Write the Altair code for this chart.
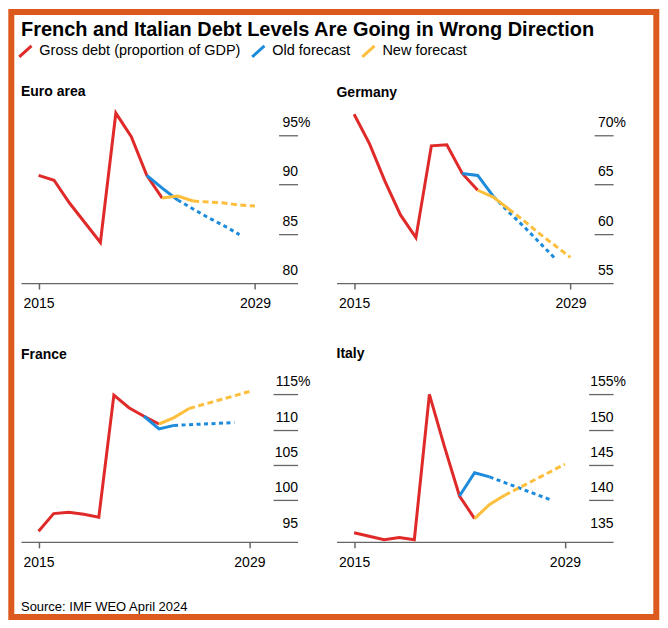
import altair as alt
import pandas as pd

# ---------------- data ----------------
SERIES = ["Gross debt (proportion of GDP)", "Old forecast", "New forecast"]

HIST_YEARS = [2015, 2016, 2017, 2018, 2019, 2020, 2021, 2022, 2023]
OLD_YEARS = [2022, 2023, 2024, 2025, 2026, 2027, 2028]
NEW_YEARS = [2023, 2024, 2025, 2026, 2027, 2028, 2029]
OLD_SOLID_UNTIL = 2024   # old forecast drawn solid up to this year, dashed after
NEW_SOLID_UNTIL = 2025   # new forecast drawn solid up to this year, dashed after

EA_DEBT = [90.9, 90.4, 88.1, 86.1, 84.1, 97.2, 94.8, 90.9, 88.6]
EA_OLD = [90.9, 89.6, 88.4, 87.5, 86.6, 85.8, 84.9]
EA_NEW = [88.6, 88.8, 88.3, 88.2, 88.1, 87.9, 87.8]

DE_DEBT = [72.1, 69.1, 65.3, 61.9, 59.6, 68.9, 69.0, 66.1, 64.4]
DE_OLD = [66.1, 65.9, 63.8, 62.2, 60.7, 59.1, 57.5]
DE_NEW = [64.4, 63.7, 62.5, 61.3, 60.0, 58.8, 57.6]

FR_DEBT = [95.6, 98.1, 98.3, 98.0, 97.6, 114.9, 113.1, 111.9, 110.8]
FR_OLD = [111.9, 110.1, 110.6, 110.7, 110.8, 110.9, 111.0]
FR_NEW = [110.8, 111.7, 113.0, 113.6, 114.2, 114.8, 115.4]

IT_DEBT = [135.4, 134.9, 134.4, 134.7, 134.4, 155.0, 147.6, 140.6, 137.4]
IT_OLD = [140.6, 143.9, 143.3, 142.5, 141.7, 140.9, 140.1]
IT_NEW = [137.4, 139.4, 140.7, 141.8, 142.9, 144.0, 145.1]

EA_TICKS = [80, 85, 90, 95]
DE_TICKS = [55, 60, 65, 70]
FR_TICKS = [95, 100, 105, 110, 115]
IT_TICKS = [135, 140, 145, 150, 155]
X_TICKS = [2015, 2029]

TITLE = "French and Italian Debt Levels Are Going in Wrong Direction"
SOURCE = "Source: IMF WEO April 2024"

# ---------------- styles ----------------
FONT = "Liberation Sans"
RED = "#DF2A29"
BLUE = "#1C8BDC"
YELLOW = "#FDBF3B"
FRAME = "#DC5A1E"
AXIS_GREY = "#666666"
W, H = 277, 175


def make_df(debt, old, new):
    rows = []
    for yr, v in zip(HIST_YEARS, debt):
        rows.append({"year": yr, "value": v, "series": SERIES[0], "part": "solid"})
    for yr, v in zip(OLD_YEARS, old):
        if yr <= OLD_SOLID_UNTIL:
            rows.append({"year": yr, "value": v, "series": SERIES[1], "part": "solid"})
        if yr >= OLD_SOLID_UNTIL:
            rows.append({"year": yr, "value": v, "series": SERIES[1], "part": "dashed"})
    for yr, v in zip(NEW_YEARS, new):
        if yr <= NEW_SOLID_UNTIL:
            rows.append({"year": yr, "value": v, "series": SERIES[2], "part": "solid"})
        if yr >= NEW_SOLID_UNTIL:
            rows.append({"year": yr, "value": v, "series": SERIES[2], "part": "dashed"})
    return pd.DataFrame(rows)


color_scale = alt.Scale(domain=SERIES, range=[RED, BLUE, YELLOW])
legend = alt.Legend(
    orient="none", legendX=-3.6, legendY=-65.3, direction="horizontal", title=None,
    symbolType="M-1,0.9L1,-0.9", symbolSize=150, symbolStrokeWidth=3,
    symbolFillColor="transparent",
    labelFont=FONT, labelFontSize=14.5, labelColor="#000", labelLimit=500,
    labelOffset=6, columnPadding=4.3,
)


def panel(name, debt, old, new, ticks, ydom, xdom, tick_len, title_offset, extra=None):
    df = make_df(debt, old, new)
    top, low = ticks[-1], ticks[0]
    xaxis = alt.Axis(
        values=X_TICKS, format="d", title=None, grid=False,
        tickSize=6, tickWidth=1.5, tickColor=AXIS_GREY,
        domainColor=AXIS_GREY, domainWidth=1.3,
        labelFont=FONT, labelFontSize=14, labelColor="#000",
        labelBaseline="alphabetic", labelPadding=18.8,
        labelFlush=False, labelOverlap=False,
    )
    yaxis = alt.Axis(
        orient="right", offset=-tick_len, tickSize=tick_len, values=ticks,
        format="d", title=None, grid=False, domain=False,
        tickColor=AXIS_GREY, tickWidth=1.3,
        tickOpacity={"condition": {"test": f"datum.value == {low}", "value": 0}, "value": 1},
        labelFont=FONT, labelFontSize=14, labelColor="#000",
        labelAlign="right", labelBaseline="alphabetic", labelOffset=-8.5,
        labelPadding={"condition": {"test": f"datum.value == {top}", "value": 12.4}, "value": 0},
        labelExpr=f"datum.value == {top} ? datum.label + '%' : datum.label",
        labelFlush=False, labelOverlap=False,
    )
    base = alt.Chart(df).encode(
        x=alt.X("year:Q", scale=alt.Scale(domain=list(xdom), nice=False, zero=False), axis=xaxis),
        y=alt.Y("value:Q", scale=alt.Scale(domain=list(ydom), nice=False, zero=False), axis=yaxis),
        color=alt.Color("series:N", scale=color_scale, legend=legend),
    )
    red = base.transform_filter(alt.datum.series == SERIES[0]).mark_line(strokeWidth=3)
    old_solid = base.transform_filter(
        (alt.datum.series == SERIES[1]) & (alt.datum.part == "solid")).mark_line(strokeWidth=3)
    old_dash = base.transform_filter(
        (alt.datum.series == SERIES[1]) & (alt.datum.part == "dashed")).mark_line(
        strokeWidth=3, strokeDash=[4, 3.5])
    new_solid = base.transform_filter(
        (alt.datum.series == SERIES[2]) & (alt.datum.part == "solid")).mark_line(strokeWidth=3)
    new_dash = base.transform_filter(
        (alt.datum.series == SERIES[2]) & (alt.datum.part == "dashed")).mark_line(
        strokeWidth=3, strokeDash=[6, 3.5])
    layers = [red, old_dash, old_solid, new_dash, new_solid]
    if extra:
        layers += extra
    return alt.layer(*layers).properties(
        width=W, height=H,
        title=alt.TitleParams(
            text=name, anchor="start", frame="group", font=FONT, fontSize=14,
            fontWeight="bold", color="#000", baseline="alphabetic", offset=title_offset,
        ),
    )


# decorative orange frame round the whole graphic (drawn inside the France cell)
frame = alt.Chart(pd.DataFrame({"k": [0]})).mark_rect(
    filled=False, stroke=FRAME, strokeWidth=6
).encode(x=alt.value(-9.7), x2=alt.value(636.3), y=alt.value(-355.7), y2=alt.value(250.3))

source = alt.Chart(pd.DataFrame({"t": [SOURCE]})).mark_text(
    align="left", baseline="alphabetic", font=FONT, fontSize=13, color="#000"
).encode(x=alt.value(0), y=alt.value(244.5), text="t:N")

XD_TOP = (2013.86, 2031.76)
XD_BOT = (2013.83, 2032.2)

euro = panel("Euro area", EA_DEBT, EA_OLD, EA_NEW, EA_TICKS, (80, 97.68), XD_TOP, 19, -3)
germany = panel("Germany", DE_DEBT, DE_OLD, DE_NEW, DE_TICKS, (55, 72.7), XD_TOP, 19, -3)
france = panel("France", FR_DEBT, FR_OLD, FR_NEW, FR_TICKS, (94.1, 118.86), XD_BOT, 24.5, -364.2,
               extra=[frame, source])
italy = panel("Italy", IT_DEBT, IT_OLD, IT_NEW, IT_TICKS, (134.1, 158.86), XD_BOT, 24.5, -5.3)

chart = alt.concat(
    euro, germany, france, italy, columns=2,
    spacing={"row": 84.2, "column": 39}, bounds="flush",
).resolve_scale(
    x="independent", y="independent", color="shared"
).properties(
    title=alt.TitleParams(
        text=TITLE, anchor="start", frame="group", font=FONT, fontSize=20,
        fontWeight="bold", color="#000", baseline="alphabetic", offset=-46.6,
    ),
    padding=0,
    background="white",
).configure(font=FONT).configure_view(stroke="transparent", strokeWidth=0)

chart.save("out.html", embed_options={"renderer": "svg", "actions": False})
